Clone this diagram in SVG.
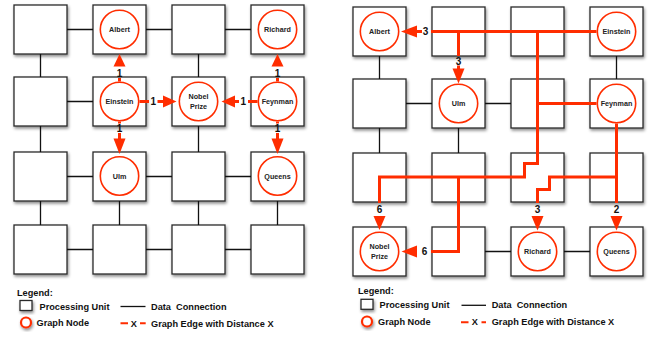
<svg xmlns="http://www.w3.org/2000/svg" width="651" height="337" viewBox="0 0 651 337">
<defs>
<filter id="sh" x="-30%" y="-30%" width="170%" height="170%">
<feDropShadow dx="1" dy="2" stdDeviation="1.4" flood-color="#000" flood-opacity="0.45"/>
</filter>
<style>
.pu{fill:#fff;stroke:#2a2a2a;stroke-width:1.3;filter:url(#sh)}
.gn{fill:#fff;stroke:#ff2d00;stroke-width:1.6}
.nt{font-family:"Liberation Sans",Arial,sans-serif;font-weight:bold;font-size:7.2px;fill:#222;text-anchor:middle}
.dc{stroke:#111;stroke-width:1.3;fill:none}
.re{stroke:#ff2d00;stroke-width:3;fill:none;stroke-linejoin:miter;stroke-linecap:butt}
.ah{fill:#ff2d00}
.el{font-family:"Liberation Sans",Arial,sans-serif;font-weight:bold;font-size:10px;fill:#111;text-anchor:middle}
.lg{font-family:"Liberation Sans",Arial,sans-serif;font-weight:bold;font-size:9.2px;fill:#111}
</style>
</defs>
<rect width="651" height="337" fill="#fff"/>

<!-- left grid nodes -->
<g id="L-r0c0"><rect class="pu" x="14" y="5" width="53" height="49"/></g>
<g id="L-r0c1"><rect class="pu" x="93" y="5" width="53" height="49"/><circle class="gn" cx="119.5" cy="29.5" r="19.2"/><text class="nt" x="119.5" y="32.1">Albert</text></g>
<g id="L-r0c2"><rect class="pu" x="172" y="5" width="53" height="49"/></g>
<g id="L-r0c3"><rect class="pu" x="251" y="5" width="53" height="49"/><circle class="gn" cx="277.5" cy="29.5" r="19.2"/><text class="nt" x="277.5" y="32.1">Richard</text></g>
<g id="L-r1c0"><rect class="pu" x="14" y="77" width="53" height="49"/></g>
<g id="L-r1c1"><rect class="pu" x="93" y="77" width="53" height="49"/><circle class="gn" cx="119.5" cy="101.5" r="19.2"/><text class="nt" x="119.5" y="104.1">Einstein</text></g>
<g id="L-r1c2"><rect class="pu" x="172" y="77" width="53" height="49"/><circle class="gn" cx="198.5" cy="101.5" r="19.2"/><text class="nt" x="198.5" y="99.2">Nobel</text><text class="nt" x="198.5" y="108.7">Prize</text></g>
<g id="L-r1c3"><rect class="pu" x="251" y="77" width="53" height="49"/><circle class="gn" cx="277.5" cy="101.5" r="19.2"/><text class="nt" x="277.5" y="104.1">Feynman</text></g>
<g id="L-r2c0"><rect class="pu" x="14" y="152" width="53" height="49"/></g>
<g id="L-r2c1"><rect class="pu" x="93" y="152" width="53" height="49"/><circle class="gn" cx="119.5" cy="176" r="19.2"/><text class="nt" x="119.5" y="178.6">Ulm</text></g>
<g id="L-r2c2"><rect class="pu" x="172" y="152" width="53" height="49"/></g>
<g id="L-r2c3"><rect class="pu" x="251" y="152" width="53" height="49"/><circle class="gn" cx="277.5" cy="176" r="19.2"/><text class="nt" x="277.5" y="178.6">Queens</text></g>
<g id="L-r3c0"><rect class="pu" x="14" y="225" width="53" height="49"/></g>
<g id="L-r3c1"><rect class="pu" x="93" y="225" width="53" height="49"/></g>
<g id="L-r3c2"><rect class="pu" x="172" y="225" width="53" height="49"/></g>
<g id="L-r3c3"><rect class="pu" x="251" y="225" width="53" height="49"/></g>

<!-- right grid nodes -->
<g id="R-r0c0"><rect class="pu" x="353" y="7" width="53" height="49"/><circle class="gn" cx="379.5" cy="31.5" r="19.2"/><text class="nt" x="379.5" y="34.1">Albert</text></g>
<g id="R-r0c1"><rect class="pu" x="432" y="7" width="53" height="49"/></g>
<g id="R-r0c2"><rect class="pu" x="511" y="7" width="53" height="49"/></g>
<g id="R-r0c3"><rect class="pu" x="590" y="7" width="53" height="49"/><circle class="gn" cx="616.5" cy="31.5" r="19.2"/><text class="nt" x="616.5" y="34.1">Einstein</text></g>
<g id="R-r1c0"><rect class="pu" x="353" y="79" width="53" height="49"/></g>
<g id="R-r1c1"><rect class="pu" x="432" y="79" width="53" height="49"/><circle class="gn" cx="458.5" cy="103.5" r="19.2"/><text class="nt" x="458.5" y="106.1">Ulm</text></g>
<g id="R-r1c2"><rect class="pu" x="511" y="79" width="53" height="49"/></g>
<g id="R-r1c3"><rect class="pu" x="590" y="79" width="53" height="49"/><circle class="gn" cx="616.5" cy="103.5" r="19.2"/><text class="nt" x="616.5" y="106.1">Feynman</text></g>
<g id="R-r2c0"><rect class="pu" x="353" y="153" width="53" height="49"/></g>
<g id="R-r2c1"><rect class="pu" x="432" y="153" width="53" height="49"/></g>
<g id="R-r2c2"><rect class="pu" x="511" y="153" width="53" height="49"/></g>
<g id="R-r2c3"><rect class="pu" x="590" y="153" width="53" height="49"/></g>
<g id="R-r3c0"><rect class="pu" x="353" y="227" width="53" height="49"/><circle class="gn" cx="379.5" cy="251.5" r="19.2"/><text class="nt" x="379.5" y="249.2">Nobel</text><text class="nt" x="379.5" y="258.7">Prize</text></g>
<g id="R-r3c1"><rect class="pu" x="432" y="227" width="53" height="49"/></g>
<g id="R-r3c2"><rect class="pu" x="511" y="227" width="53" height="49"/><circle class="gn" cx="537.5" cy="251.5" r="19.2"/><text class="nt" x="537.5" y="254.1">Richard</text></g>
<g id="R-r3c3"><rect class="pu" x="590" y="227" width="53" height="49"/><circle class="gn" cx="616.5" cy="251.5" r="19.2"/><text class="nt" x="616.5" y="254.1">Queens</text></g>

<!-- connectors -->
<g id="connectors">
<!-- left grid data connections -->
<path class="dc" d="M67,29.5H93 M146,29.5H172 M225,29.5H251 M67,101.5H93 M67,176.5H93 M146,176.5H172 M225,176.5H251 M67,249.5H93 M146,249.5H172 M225,249.5H251 M40.5,54V77 M198.5,54V77 M40.5,126V152 M198.5,126V152 M40.5,201V225 M119.5,201V225 M198.5,201V225 M277.5,201V225"/>
<!-- right grid data connections -->
<path class="dc" d="M406,103.5H432 M485,103.5H511 M485,251.5H511 M564,251.5H590 M379.5,56V79 M616.5,56V79 M379.5,128V153 M458.5,128V153"/>

<!-- left graph edges -->
<g id="L-edge-einstein-albert">
<path class="re" d="M119.5,81.5V78"/>
<polygon class="ah" points="119.5,54 113.5,66.5 125.5,66.5"/>
<text class="el" x="119.5" y="77">1</text>
</g>
<g id="L-edge-feynman-richard">
<path class="re" d="M277.5,81.5V78"/>
<polygon class="ah" points="277.5,54 271.5,66.5 283.5,66.5"/>
<text class="el" x="277.5" y="77">1</text>
</g>
<g id="L-edge-einstein-ulm">
<path class="re" d="M119.5,121.5V123.5 M119.5,133V139"/>
<polygon class="ah" points="113.5,138.5 125.5,138.5 119.5,154"/>
<text class="el" x="119.5" y="131.5">1</text>
</g>
<g id="L-edge-feynman-queens">
<path class="re" d="M277.5,121.5V123.5 M277.5,133V139"/>
<polygon class="ah" points="271.5,138.5 283.5,138.5 277.5,154"/>
<text class="el" x="277.5" y="131.5">1</text>
</g>
<g id="L-edge-einstein-nobel">
<path class="re" d="M139.5,101.5H149 M157.5,101.5H164"/>
<polygon class="ah" points="163,95.5 163,107.5 176.5,101.5"/>
<text class="el" x="153.4" y="105">1</text>
</g>
<g id="L-edge-feynman-nobel">
<path class="re" d="M257.5,101.5H248 M239,101.5H234"/>
<polygon class="ah" points="235,95.5 235,107.5 221.5,101.5"/>
<text class="el" x="243.2" y="105">1</text>
</g>

<!-- right graph edges -->
<g id="R-edge-einstein-albert-ulm-nobel">
<path class="re" d="M596.5,31.5H431 M422,31.5H416"/>
<polygon class="ah" points="417,25.5 417,37.5 401,31.5"/>
<text class="el" x="425.5" y="35">3</text>
<path class="re" d="M458.5,31.5V56 M458.5,65.5V69"/>
<polygon class="ah" points="452.5,68.5 464.5,68.5 458.5,83.5"/>
<text class="el" x="458.5" y="65">3</text>
<path class="re" d="M537.5,31.5V163.5H524.5V177H379.5V203"/>
<path class="re" d="M537.5,103.5H596.5"/>
<polygon class="ah" points="373.5,216 385.5,216 379.5,230"/>
<text class="el" x="379.5" y="213">6</text>
<path class="re" d="M458.5,177V251.5H431"/>
<polygon class="ah" points="417,245.5 417,257.5 401.5,251.5"/>
<text class="el" x="424.5" y="255">6</text>
</g>
<g id="R-edge-feynman-queens-richard">
<path class="re" d="M616.5,123.5V203"/>
<polygon class="ah" points="610.5,216 622.5,216 616.5,230.5"/>
<text class="el" x="616.5" y="213">2</text>
<path class="re" d="M616.5,177H549.5V189.5H537.5V203"/>
<polygon class="ah" points="531.5,216 543.5,216 537.5,230.5"/>
<text class="el" x="537.5" y="213">3</text>
</g>
</g>

<!-- legends -->
<g id="legend-left">
<text class="lg" x="17" y="295.5">Legend:</text>
<rect class="pu" x="20" y="300.5" width="12" height="10"/>
<text class="lg" x="39.5" y="309.5">Processing Unit</text>
<path class="dc" d="M120.5,306.5H145.5"/>
<text class="lg" x="151" y="309.5" xml:space="preserve">Data  Connection</text>
<circle cx="26" cy="322.5" r="5" fill="#fff" stroke="#ff2d00" stroke-width="2.2" filter="url(#sh)"/>
<text class="lg" x="36.5" y="326">Graph Node</text>
<path d="M120.5,323.3H128 M140,323.3H145.7" stroke="#ff2d00" stroke-width="2"/>
<text class="lg" x="133.7" y="326.5" text-anchor="middle">X</text>
<text class="lg" x="151" y="326.5">Graph Edge with Distance X</text>
</g>
<g id="legend-right">
<text class="lg" x="358" y="294.3">Legend:</text>
<rect class="pu" x="361" y="299.3" width="12" height="10"/>
<text class="lg" x="379.5" y="308.3">Processing Unit</text>
<path class="dc" d="M461.5,305.3H486"/>
<text class="lg" x="491.7" y="308.3" xml:space="preserve">Data  Connection</text>
<circle cx="367" cy="321.5" r="5" fill="#fff" stroke="#ff2d00" stroke-width="2.2" filter="url(#sh)"/>
<text class="lg" x="378" y="325">Graph Node</text>
<path d="M461,322.2H468.5 M481.5,322.2H486" stroke="#ff2d00" stroke-width="2"/>
<text class="lg" x="474.7" y="325.3" text-anchor="middle">X</text>
<text class="lg" x="491.7" y="325.3">Graph Edge with Distance X</text>
</g>
</svg>
